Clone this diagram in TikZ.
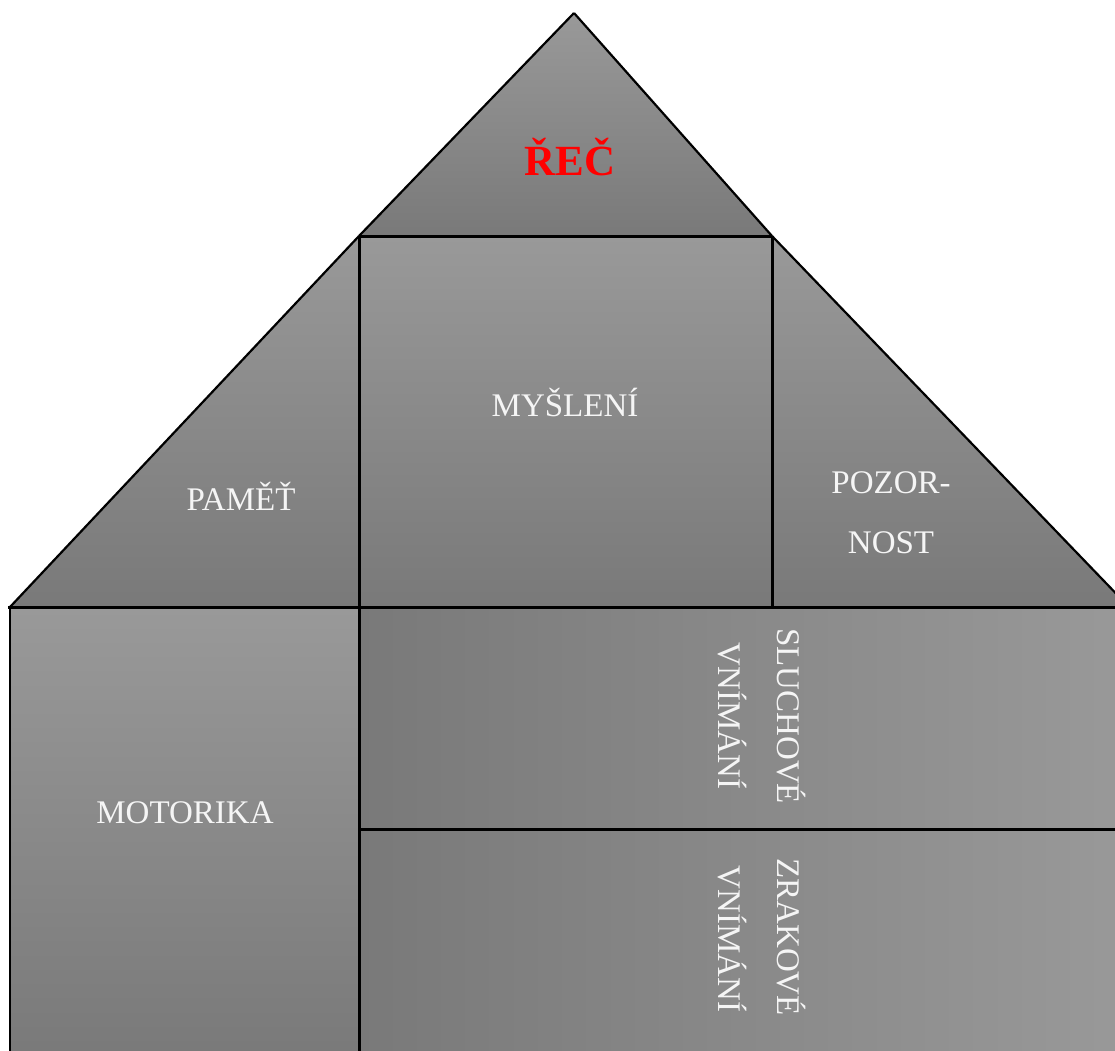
\documentclass[tikz,border=0pt]{standalone}
\usepackage{fontspec}
\setmainfont{Liberation Serif}
\definecolor{lite}{gray}{0.60}
\definecolor{dark}{gray}{0.475}
\definecolor{labelwhite}{gray}{0.96}
\begin{document}
\begin{tikzpicture}[x=1pt,y=-1pt,
  vgrad/.style={top color=lite, bottom color=dark, shading angle=0},
  hgrad/.style={left color=dark, right color=lite},
  outline/.style={draw=black, line width=2.2pt, line join=miter},
  inner/.style={draw=black, line width=3pt},
  lbl/.style={text=labelwhite, font=\fontsize{33}{40}\selectfont, inner sep=0pt, anchor=base},
  title/.style={text=red, font=\bfseries\fontsize{43}{50}\selectfont, inner sep=0pt, anchor=base}]
  \useasboundingbox (0,0) rectangle (1115,1050);
  \clip (0,0) rectangle (1115,1050);

  % roof: top gable, left and right slopes, central block
  \shade[vgrad] (574,13) -- (772,236) -- (359,236) -- cycle;
  \shade[vgrad] (359,236) -- (359,607) -- (10,607) -- cycle;
  \shade[vgrad] (772,236) -- (1129,607) -- (772,607) -- cycle;
  \shade[vgrad] (359,236) rectangle (772,607);

  % ground floor
  \shade[vgrad] (10,607) rectangle (359,1060);
  \shade[hgrad] (359,607) rectangle (1130,829);
  \shade[hgrad] (359,829) rectangle (1130,1060);

  % outlines
  \draw[outline] (574,13) -- (772,236);
  \draw[outline] (574,13) -- (359,236);
  \draw[outline] (359,236) -- (10,607);
  \draw[outline] (772,236) -- (1129,607);
  \draw[outline] (10,607) -- (10,1060);
  \draw[inner] (359,236) -- (772,236);
  \draw[inner] (359,236) -- (359,1060);
  \draw[inner] (772,236) -- (772,607);
  \draw[inner] (359,829) -- (1130,829);
  \draw[inner] (8,607) -- (1130,607);

  % labels
  \node[title] (rec) at (570,175) {ŘEČ};
  \node[lbl] (mysleni) at (565,416) {MYŠLENÍ};
  \node[lbl] (pamet) at (241,510) {PAMĚŤ};
  \node[lbl] (pozor) at (891,493) {POZOR-};
  \node[lbl] (nost) at (891,553) {NOST};
  \node[lbl] (motorika) at (185,823) {MOTORIKA};
  \node[lbl, rotate=-90] (sluch) at (777,716) {SLUCHOVÉ};
  \node[lbl, rotate=-90] (sluchvn) at (718,716) {VNÍMÁNÍ};
  \node[lbl, rotate=-90] (zrak) at (777,937) {ZRAKOVÉ};
  \node[lbl, rotate=-90] (zrakvn) at (718,939) {VNÍMÁNÍ};
\end{tikzpicture}
\end{document}
